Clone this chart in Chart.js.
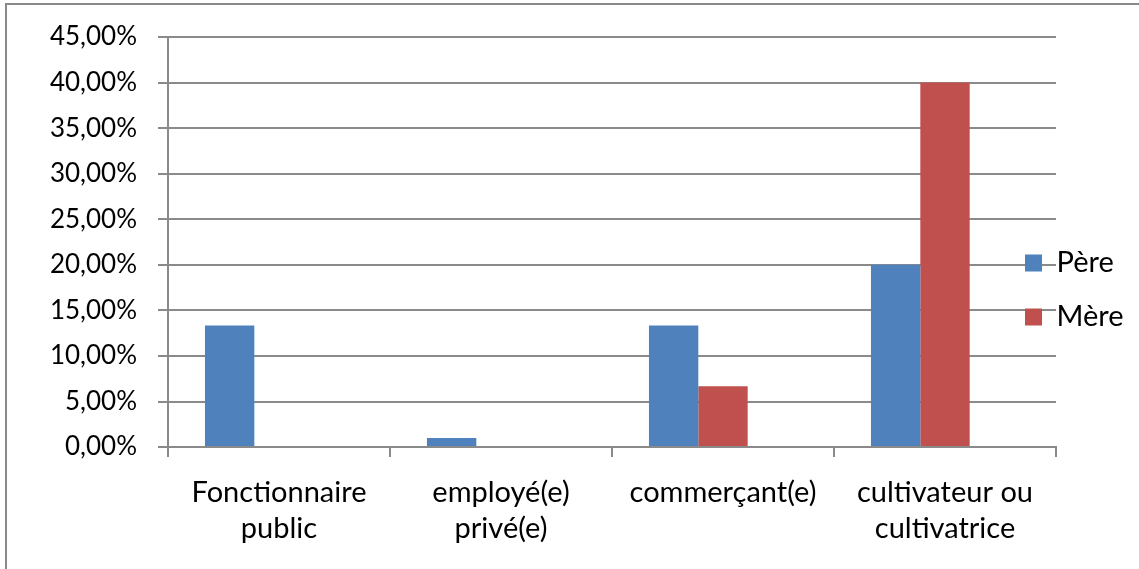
<!DOCTYPE html>
<html lang="fr">
<head>
<meta charset="UTF-8">
<title>Profession des parents</title>
<script src="https://cdn.jsdelivr.net/npm/chart.js"></script>
<style>
  html, body { margin: 0; padding: 0; background: #fff; overflow: hidden; }
  #cadre {
    position: absolute; left: 5px; top: 3px;
    width: 1150px; height: 580px;
    border: 2px solid #898989;
    box-sizing: border-box;
  }
  #graphe { position: absolute; left: 0; top: 0; }
</style>
</head>
<body>
<div id="cadre"></div>
<canvas id="graphe" width="1139" height="569"></canvas>

<script>
// categories et valeurs (en %)
const categories = [
  ['Fonctionnaire', 'public'],
  ['employé(e)', 'privé(e)'],
  ['commerçant(e)'],
  ['cultivateur ou', 'cultivatrice']
];
const pere = [13.33, 1.0, 13.33, 20.0];
const mere = [0, 0, 6.67, 40.0];
const vide = [0, 0, 0, 0]; // troisième série sans valeurs
const yTicks = [0, 5, 10, 15, 20, 25, 30, 35, 40, 45];

const police = 'Lato, "Open Sans", sans-serif';
const gris = '#8a8a8a';

function pourcent(v) {
  return v.toFixed(2).replace('.', ',') + '%';
}

// légende plus étroite, posée à cheval sur le bord droit du graphique
const placeLegende = {
  id: 'placeLegende',
  beforeLayout(chart) {
    const lg = chart.legend;
    if (lg && !lg._fitOrig) {
      lg._fitOrig = lg.fit;
      lg.fit = function () { this._fitOrig(); this.width = 83; };
    }
  },
  afterLayout(chart) {
    const lg = chart.legend;
    lg.left -= 56;
    lg.width = lg.right - lg.left;
    lg.top -= 11; lg.bottom -= 11;
  }
};

new Chart(document.getElementById('graphe'), {
  type: 'bar',
  data: {
    labels: categories,
    datasets: [
      { label: 'Père', data: pere, backgroundColor: '#4f81bd' },
      { label: 'Mère', data: mere, backgroundColor: '#c0504d' },
      { label: '', data: vide, backgroundColor: 'rgba(0,0,0,0)' }
    ]
  },
  plugins: [placeLegende],
  options: {
    responsive: false,
    animation: false,
    devicePixelRatio: 1,
    layout: { padding: { top: 37, bottom: 4, left: 0, right: 0 } },
    datasets: { bar: { categoryPercentage: 0.667, barPercentage: 1.0, borderWidth: 0 } },
    plugins: {
      tooltip: { enabled: false },
      legend: {
        position: 'right',
        labels: {
          font: { family: police, size: 29 },
          color: '#000',
          boxWidth: 17,
          boxHeight: 17,
          padding: 25,
          filter: (item) => item.text !== ''
        }
      }
    },
    scales: {
      x: {
        grid: {
          offset: true,
          drawOnChartArea: false,
          drawTicks: true,
          tickLength: 10,
          color: gris,
          lineWidth: 2
        },
        border: { color: gris, width: 2 },
        ticks: {
          font: { family: police, size: 29, lineHeight: 1.24 },
          color: '#000',
          padding: 18,
          maxRotation: 0,
          autoSkip: false
        }
      },
      y: {
        min: 0,
        max: 45,
        afterFit: (s) => { s.width = 168; },
        afterBuildTicks: (s) => { s.ticks = yTicks.map(v => ({ value: v })); },
        grid: { color: gris, lineWidth: 2, tickLength: 10 },
        border: { color: gris, width: 2 },
        ticks: {
          font: { family: police, size: 26 },
          color: '#000',
          padding: 21,
          callback: (v) => pourcent(v)
        }
      }
    }
  }
});
</script>
</body>
</html>
